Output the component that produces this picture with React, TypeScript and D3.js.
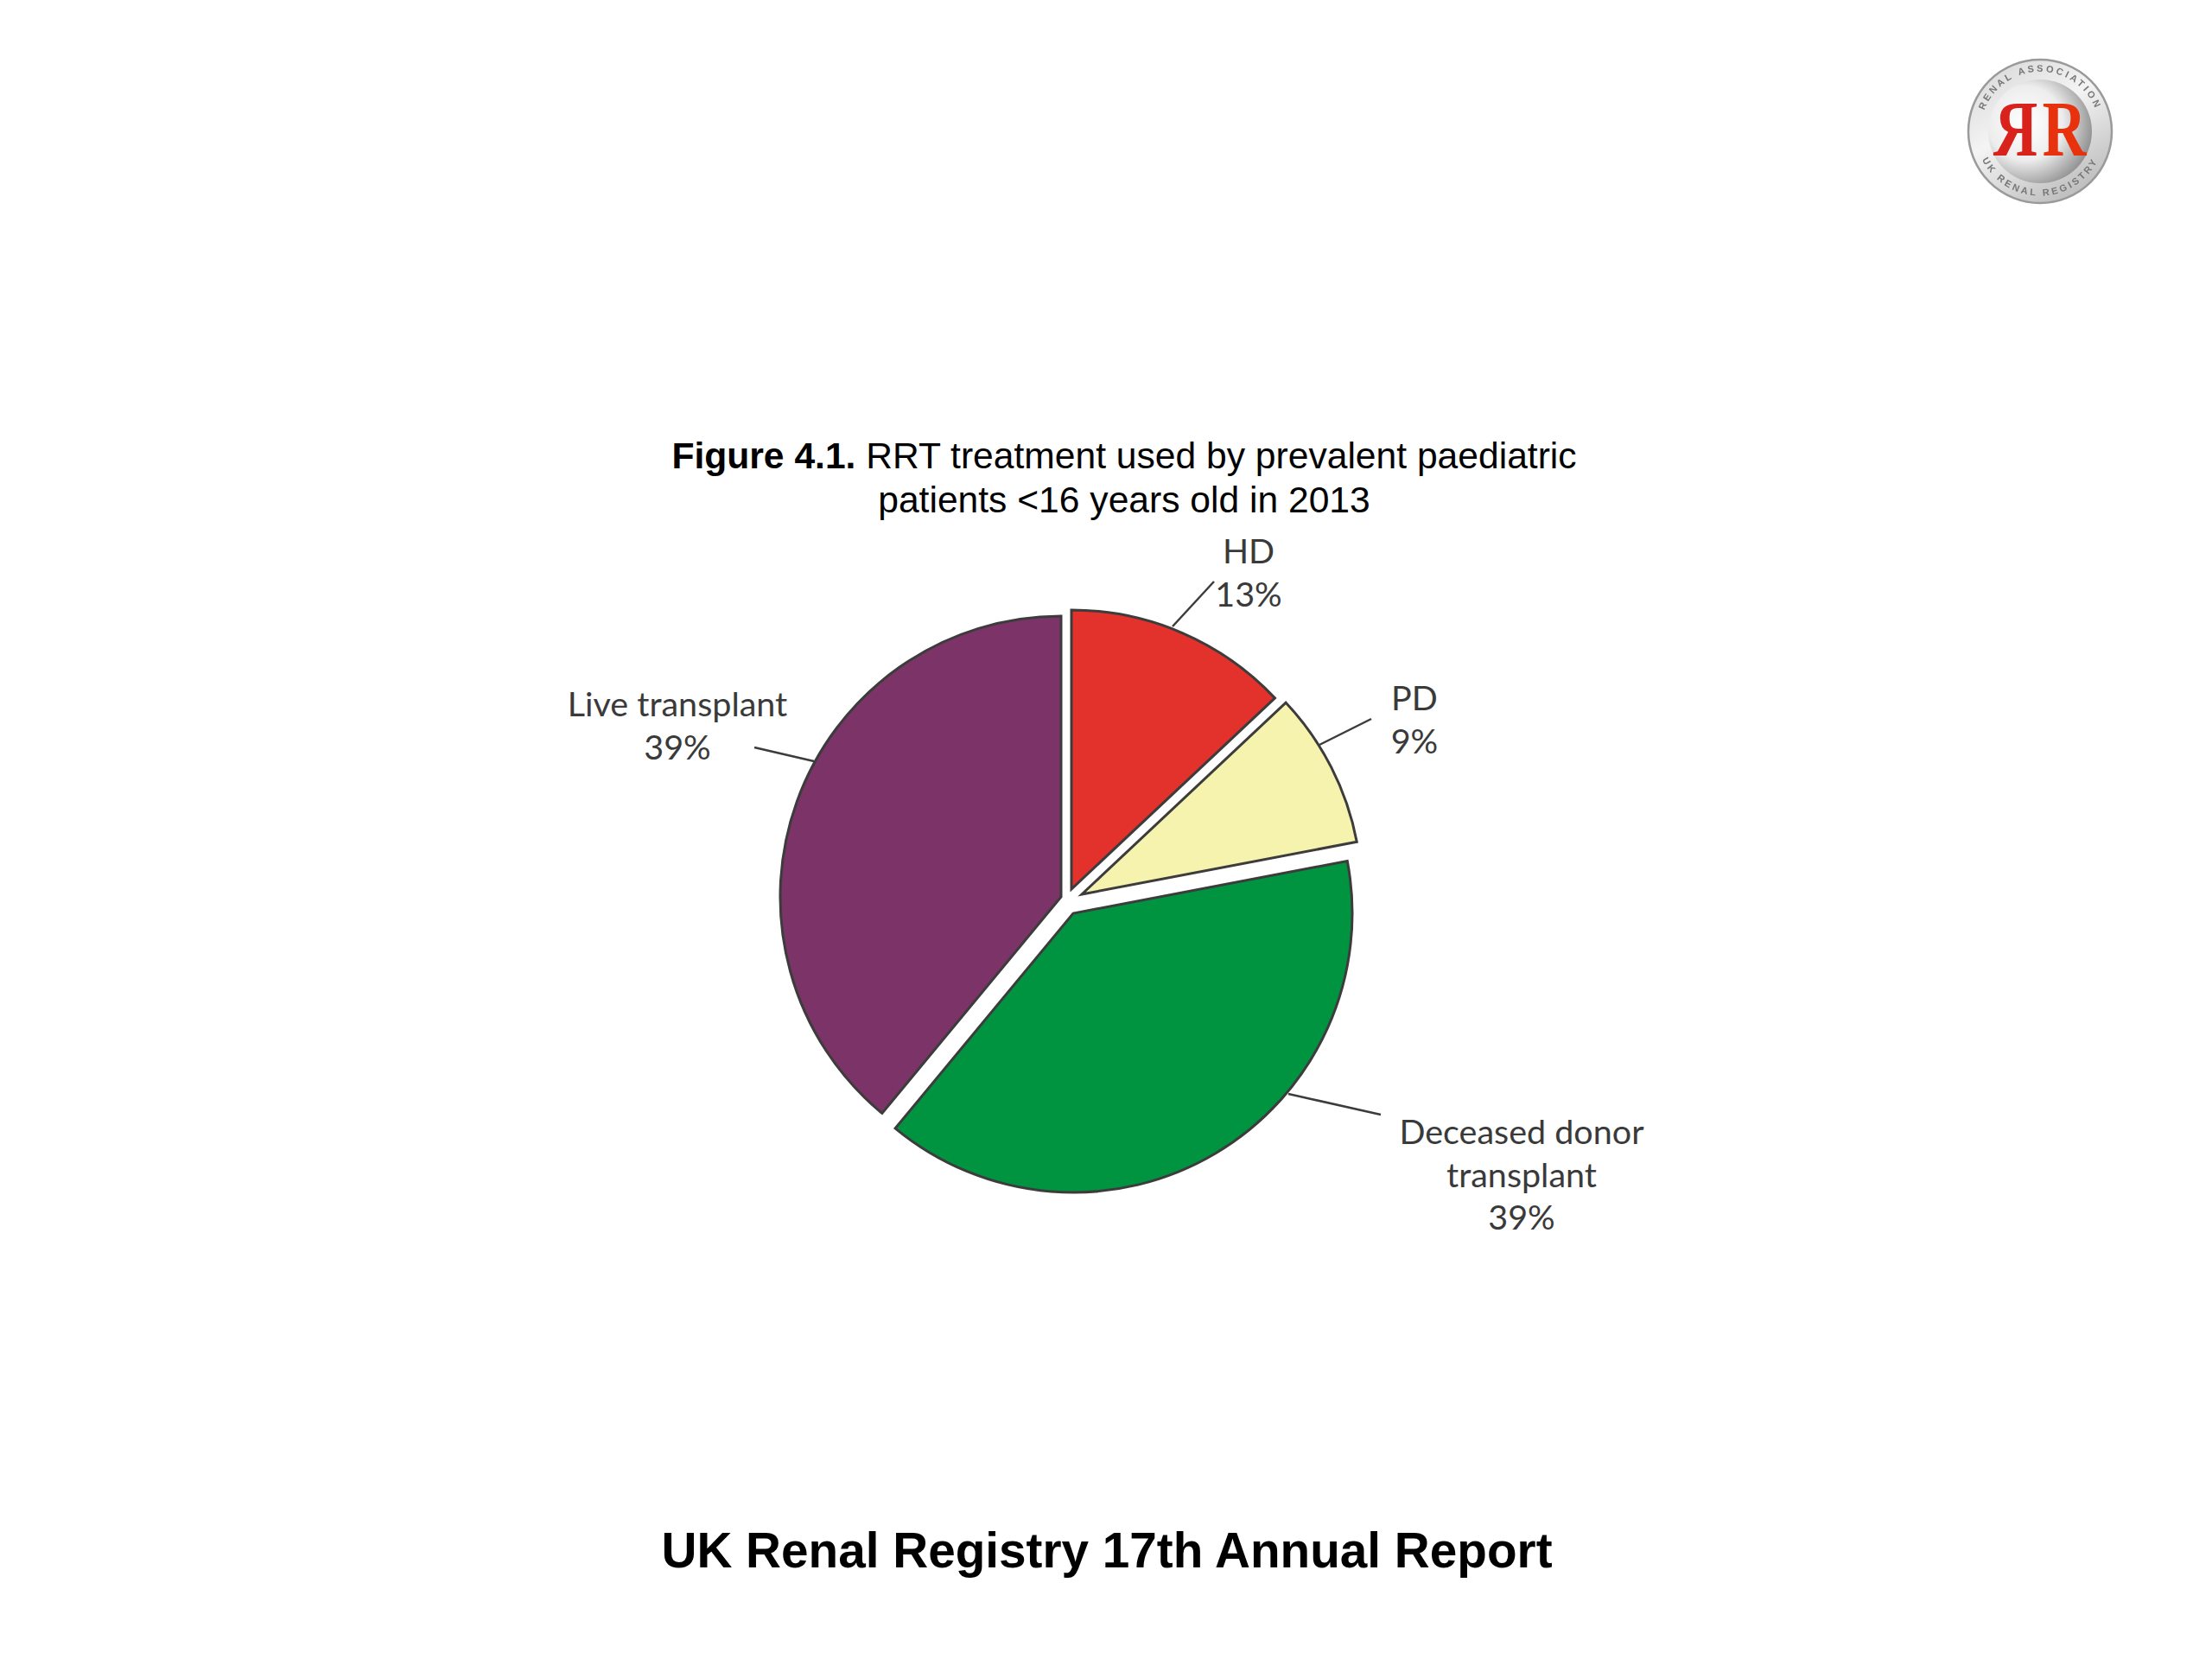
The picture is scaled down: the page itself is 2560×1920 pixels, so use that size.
import { useEffect, useRef } from 'react';
import * as d3 from 'd3';

const categories = ['HD', 'PD', 'Deceased donor transplant', 'Live transplant'];
const percents = [13, 9, 39, 39];
const sliceColors = ['#e3322b', '#f6f3ae', '#009440', '#7b3368'];

// each slice was pulled out by hand in the original, so every one has its own apex
const apexes: [number, number][] = [[1240, 1029], [1252, 1035], [1242, 1057], [1228, 1038]];
const sliceRadius = [323, 324, 323, 325];

const labelLines = [['HD', '13%'], ['PD', '9%'], ['Deceased donor', 'transplant', '39%'], ['Live transplant', '39%']];
const labelAnchors: [number, number][] = [[1445, 652], [1637, 822], [1761, 1324], [784, 829]];
const leaders: [number, number, number, number][] = [
  [1357, 725, 1405, 673],
  [1527, 862, 1587, 832],
  [1491, 1266, 1598, 1290],
  [942, 881, 873, 865],
];

export default function App() {
  const ref = useRef<SVGSVGElement | null>(null);

  useEffect(() => {
    if (!ref.current) return;
    const svg = d3.select(ref.current);
    svg.selectAll('*').remove();

    const defs = svg.append('defs');
    const ringGrad = defs.append('linearGradient').attr('id', 'ring').attr('x1', 0).attr('y1', 0).attr('x2', 0.6).attr('y2', 1);
    ringGrad.append('stop').attr('offset', '0%').attr('stop-color', '#d4d4d4');
    ringGrad.append('stop').attr('offset', '50%').attr('stop-color', '#f4f4f4');
    ringGrad.append('stop').attr('offset', '100%').attr('stop-color', '#c0c0c0');
    const ballGrad = defs.append('radialGradient').attr('id', 'ball').attr('cx', 0.36).attr('cy', 0.42).attr('r', 0.72);
    ballGrad.append('stop').attr('offset', '0%').attr('stop-color', '#ffffff');
    ballGrad.append('stop').attr('offset', '50%').attr('stop-color', '#ededed');
    ballGrad.append('stop').attr('offset', '100%').attr('stop-color', '#7f7f7f');
    defs.append('filter').attr('id', 'soft').append('feGaussianBlur').attr('stdDeviation', 0.7);
    defs.append('path').attr('id', 'ringTop').attr('d', 'M -66 20 A 69 69 0 1 1 66 20');
    defs.append('path').attr('id', 'ringBottom').attr('d', 'M -72 -20 A 74.7 74.7 0 1 0 72 -20');

    // logo
    const logo = svg.append('g').attr('transform', 'translate(2361,152)').attr('filter', 'url(#soft)');
    logo.append('circle').attr('r', 83).attr('fill', 'url(#ring)').attr('stroke', '#9a9a9a').attr('stroke-width', 2.5);
    logo.append('circle').attr('r', 60).attr('fill', 'url(#ball)');
    const ringText = (href: string, text: string) => logo.append('text')
      .attr('font-family', 'Liberation Sans').attr('font-weight', 700).attr('font-size', 11)
      .attr('letter-spacing', 3).attr('fill', '#777777')
      .append('textPath').attr('href', href).attr('startOffset', '50%').attr('text-anchor', 'middle').text(text);
    ringText('#ringTop', 'RENAL ASSOCIATION');
    ringText('#ringBottom', 'UK RENAL REGISTRY');
    const rr = logo.append('g').attr('font-family', 'Liberation Serif').attr('font-weight', 700)
      .attr('font-size', 90).attr('text-anchor', 'middle');
    rr.append('text').attr('transform', 'translate(-28,28) scale(-0.78,1)').attr('fill', '#d9201c').text('R');
    rr.append('text').attr('transform', 'translate(28,28) scale(0.78,1)').attr('fill', '#e8320f').text('R');

    // title
    const title = svg.append('g').attr('font-family', 'Liberation Sans').attr('font-size', 42.6)
      .attr('text-anchor', 'middle').attr('fill', '#000000');
    const first = title.append('text').attr('x', 1301).attr('y', 542);
    first.append('tspan').attr('font-weight', 700).text('Figure 4.1.');
    first.append('tspan').text(' RRT treatment used by prevalent paediatric');
    title.append('text').attr('x', 1301).attr('y', 593).text('patients <16 years old in 2013');

    // pie
    const pie = d3.pie<number>().sort(null).value(d => d);
    const arcs = pie(percents);
    const arc = d3.arc<d3.PieArcDatum<number>>().innerRadius(0);

    svg.append('g').selectAll('path')
      .data(arcs)
      .enter()
      .append('path')
      .attr('transform', (_, i) => `translate(${apexes[i][0]},${apexes[i][1]})`)
      .attr('d', (d, i) => arc.outerRadius(sliceRadius[i])(d))
      .attr('fill', (_, i) => sliceColors[i])
      .attr('stroke', '#3c3c3c')
      .attr('stroke-width', 3)
      .append('title').text((_, i) => `${categories[i]} ${percents[i]}%`);

    svg.append('g').selectAll('line')
      .data(leaders)
      .enter()
      .append('line')
      .attr('x1', d => d[0]).attr('y1', d => d[1])
      .attr('x2', d => d[2]).attr('y2', d => d[3])
      .attr('stroke', '#3c3c3c').attr('stroke-width', 2.5);

    const labels = svg.append('g').attr('font-family', 'Lato').attr('font-size', 39.5)
      .attr('text-anchor', 'middle').attr('fill', '#3a3a3a');
    labelLines.forEach((lines, i) => {
      lines.forEach((line, j) => {
        labels.append('text')
          .attr('x', labelAnchors[i][0])
          .attr('y', labelAnchors[i][1] + j * 49.5)
          .text(line);
      });
    });

    // footer
    svg.append('text').attr('x', 1281).attr('y', 1814)
      .attr('font-family', 'Liberation Sans').attr('font-weight', 700).attr('font-size', 56.7)
      .attr('text-anchor', 'middle').attr('fill', '#000000')
      .text('UK Renal Registry 17th Annual Report');
  }, []);

  return (
    <svg ref={ref} width={2560} height={1920} style={{ position: 'absolute', left: 0, top: 0, background: '#ffffff' }}></svg>
  );
}
